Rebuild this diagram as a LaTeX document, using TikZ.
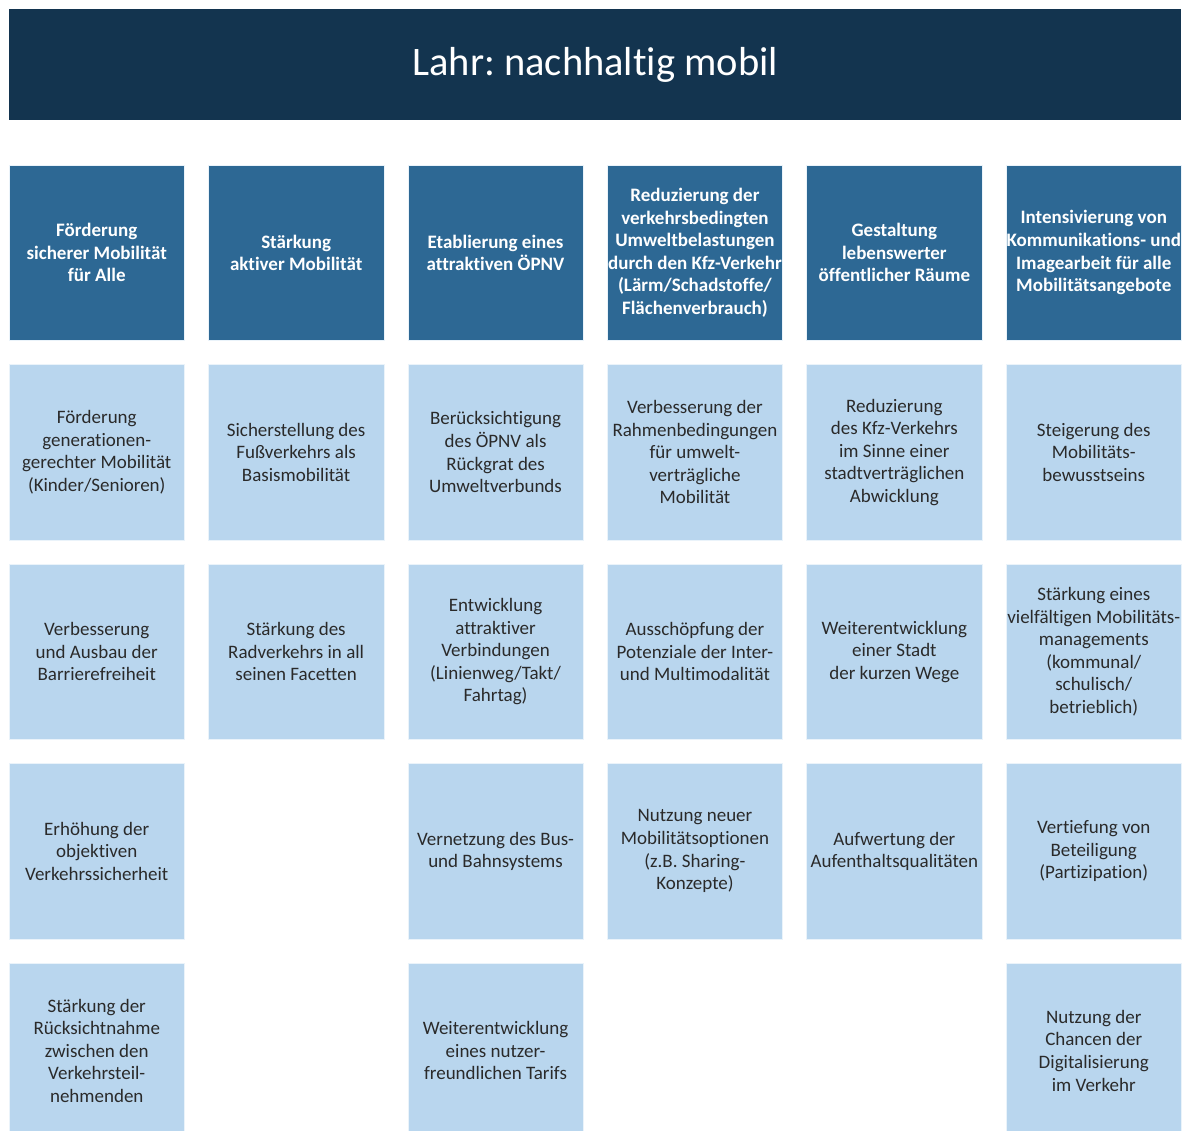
\documentclass[tikz,border=0pt]{standalone}
\usepackage{fontspec}
\setmainfont{Carlito}[Ligatures=NoCommon]
\frenchspacing
\definecolor{titlebg}{HTML}{13344F}
\definecolor{headbg}{HTML}{2D6894}
\definecolor{itembg}{HTML}{B9D6EE}
\definecolor{itemtext}{HTML}{2A2A2A}
\begin{document}
\begin{tikzpicture}[x=1pt,y=-1pt,
  cell/.style={anchor=center,minimum width=175.5pt,minimum height=175.5pt,
    inner sep=0pt,align=center,draw=white!70!itembg,line width=0.6pt},
  headbox/.style={cell,fill=headbg,text=white,font=\fontsize{19}{22.6}\selectfont\bfseries},
  itembox/.style={cell,fill=itembg,text=itemtext,font=\fontsize{19}{22.6}\selectfont},
  titlebar/.style={anchor=north west,fill=titlebg,minimum width=1172pt,minimum height=111pt,
    inner sep=0pt,text=white,font=\fontsize{40.5}{48}\selectfont}]
\useasboundingbox (0,0) rectangle (1183,1131);
\clip (0,0) rectangle (1183,1131);
% column centres and row centres
\def\cA{96.75}\def\cB{296.15}\def\cC{495.55}\def\cD{694.95}\def\cE{894.35}\def\cF{1093.75}
\def\rA{252.75}\def\rB{452.25}\def\rC{651.75}\def\rD{851.25}\def\rE{1050.75}

\node[titlebar] (title) at (9,9) {Lahr: nachhaltig mobil};

% headings
\node[headbox] (h1) at (\cA,\rA) {Förderung\\sicherer Mobilität\\für Alle};
\node[headbox] (h2) at (\cB,\rA) {Stärkung\\aktiver Mobilität};
\node[headbox] (h3) at (\cC,\rA) {Etablierung eines\\attraktiven ÖPNV};
\node[headbox] (h4) at (\cD,\rA) {Reduzierung der\\verkehrsbedingten\\Umweltbelastungen\\durch den Kfz-Verkehr\\(Lärm/Schadstoffe/\\Flächenverbrauch)};
\node[headbox] (h5) at (\cE,\rA) {Gestaltung\\lebenswerter\\öffentlicher Räume};
\node[headbox] (h6) at (\cF,\rA) {Intensivierung von\\Kommunikations- und\\Imagearbeit für alle\\Mobilitätsangebote};

% column 1
\node[itembox] (a1) at (\cA,\rB) {Förderung\\generationen-\\gerechter Mobilität\\(Kinder/Senioren)};
\node[itembox] (a2) at (\cA,\rC) {Verbesserung\\und Ausbau der\\Barrierefreiheit};
\node[itembox] (a3) at (\cA,\rD) {Erhöhung der\\objektiven\\Verkehrssicherheit};
\node[itembox] (a4) at (\cA,\rE) {Stärkung der\\Rücksichtnahme\\zwischen den\\Verkehrsteil-\\nehmenden};

% column 2
\node[itembox] (b1) at (\cB,\rB) {Sicherstellung des\\Fußverkehrs als\\Basismobilität};
\node[itembox] (b2) at (\cB,\rC) {Stärkung des\\Radverkehrs in all\\seinen Facetten};

% column 3
\node[itembox] (c1) at (\cC,\rB) {Berücksichtigung\\des ÖPNV als\\Rückgrat des\\Umweltverbunds};
\node[itembox] (c2) at (\cC,\rC) {Entwicklung\\attraktiver\\Verbindungen\\(Linienweg/Takt/\\Fahrtag)};
\node[itembox] (c3) at (\cC,\rD) {Vernetzung des Bus-\\und Bahnsystems};
\node[itembox] (c4) at (\cC,\rE) {Weiterentwicklung\\eines nutzer-\\freundlichen Tarifs};

% column 4
\node[itembox] (d1) at (\cD,\rB) {Verbesserung der\\Rahmenbedingungen\\für umwelt-\\verträgliche\\Mobilität};
\node[itembox] (d2) at (\cD,\rC) {Ausschöpfung der\\Potenziale der Inter-\\und Multimodalität};
\node[itembox] (d3) at (\cD,\rD) {Nutzung neuer\\Mobilitätsoptionen\\(z.B. Sharing-\\Konzepte)};

% column 5
\node[itembox] (e1) at (\cE,\rB) {Reduzierung\\des Kfz-Verkehrs\\im Sinne einer\\stadtverträglichen\\Abwicklung};
\node[itembox] (e2) at (\cE,\rC) {Weiterentwicklung\\einer Stadt\\der kurzen Wege};
\node[itembox] (e3) at (\cE,\rD) {Aufwertung der\\Aufenthaltsqualitäten};

% column 6
\node[itembox] (f1) at (\cF,\rB) {Steigerung des\\Mobilitäts-\\bewusstseins};
\node[itembox] (f2) at (\cF,\rC) {Stärkung eines\\vielfältigen Mobilitäts-\\managements\\(kommunal/\\schulisch/\\betrieblich)};
\node[itembox] (f3) at (\cF,\rD) {Vertiefung von\\Beteiligung\\(Partizipation)};
\node[itembox] (f4) at (\cF,\rE) {Nutzung der\\Chancen der\\Digitalisierung\\im Verkehr};
\end{tikzpicture}
\end{document}
